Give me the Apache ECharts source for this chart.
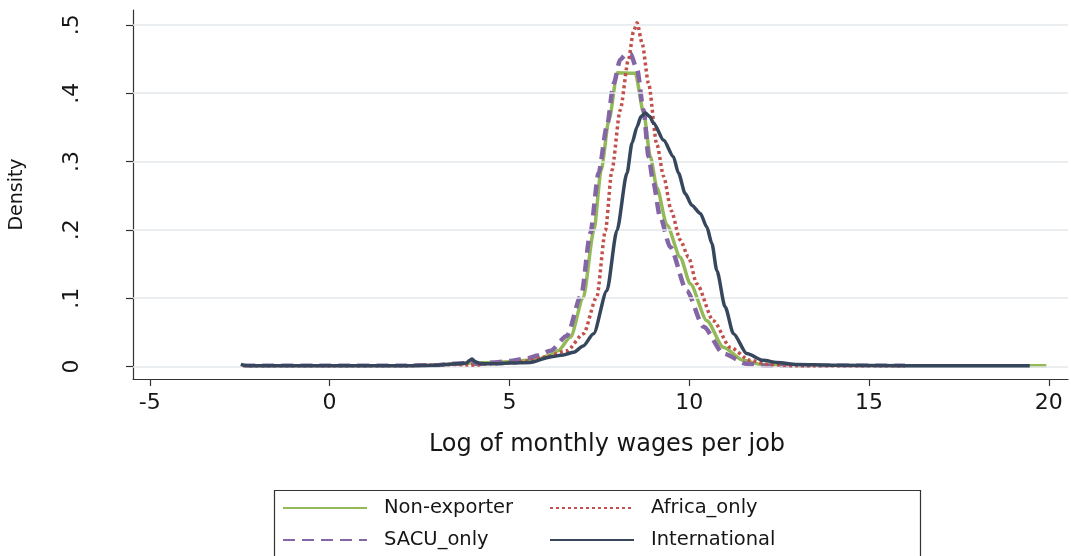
<!DOCTYPE html>
<html>
<head>
<meta charset="utf-8">
<script src="https://cdn.jsdelivr.net/npm/echarts@6/dist/echarts.min.js"></script>
<style>
  html, body { margin: 0; padding: 0; background: #ffffff; }
  #chart { width: 1071px; height: 556px; }
</style>
</head>
<body>
<div id="chart"></div>
<script>
// Kernel density of log monthly wages per job, by exporter status.

const xTicks = [-5, 0, 5, 10, 15, 20];
const yTicks = [0, 0.1, 0.2, 0.3, 0.4, 0.5];

const nonExporterX = [-2.4, 0, 2, 3, 3.5, 4, 4.5, 5, 5.5, 5.8, 6.1, 6.35, 6.7, 7.05, 7.35, 7.55, 7.77, 8.0, 8.5, 8.73, 8.92, 9.1, 9.38, 9.75, 10.03, 10.49, 10.95, 11.5, 12, 13, 16, 19.93];
const nonExporterY = [0.001, 0.001, 0.001, 0.002, 0.004, 0.005, 0.006, 0.007, 0.009, 0.011, 0.016, 0.023, 0.043, 0.100, 0.199, 0.287, 0.361, 0.430, 0.429, 0.372, 0.307, 0.262, 0.207, 0.160, 0.121, 0.067, 0.028, 0.009, 0.003, 0.001, 0.001, 0.001];

const sacuX = [-2.4, 0, 2, 3, 3.4, 3.8, 4.2, 4.6, 5, 5.5, 5.8, 6.14, 6.6, 7.0, 7.25, 7.48, 7.71, 7.9, 8.08, 8.22, 8.36, 8.55, 8.73, 8.87, 9.0, 9.19, 9.47, 9.93, 10.4, 10.95, 11.6, 12.2, 13, 16];
const sacuY = [0.001, 0.001, 0.001, 0.002, 0.004, 0.005, 0.004, 0.006, 0.008, 0.012, 0.016, 0.023, 0.045, 0.105, 0.195, 0.283, 0.351, 0.414, 0.449, 0.456, 0.458, 0.435, 0.375, 0.307, 0.270, 0.219, 0.175, 0.111, 0.058, 0.019, 0.004, 0.001, 0.001, 0.001];

const africaX = [-2.4, 0, 2, 3, 3.5, 4, 4.5, 5, 5.5, 6, 6.6, 7.06, 7.43, 7.67, 7.85, 8.08, 8.31, 8.45, 8.55, 8.69, 8.87, 9.1, 9.29, 9.5, 9.75, 9.98, 10.21, 10.67, 11.14, 11.69, 12.2, 13, 16];
const africaY = [0.001, 0.001, 0.001, 0.002, 0.003, 0.002, 0.004, 0.005, 0.008, 0.014, 0.023, 0.048, 0.102, 0.199, 0.287, 0.375, 0.449, 0.490, 0.503, 0.473, 0.414, 0.325, 0.278, 0.228, 0.185, 0.160, 0.121, 0.067, 0.028, 0.009, 0.003, 0.001, 0.001];

const internationalX = [-2.47, -2.3, 0, 2, 3, 3.5, 3.8, 3.9, 3.96, 4.05, 4.2, 4.6, 5, 5.58, 6.14, 6.5, 6.79, 7.05, 7.34, 7.71, 7.99, 8.27, 8.41, 8.55, 8.66, 8.78, 8.9, 9.01, 9.29, 9.56, 9.7, 9.89, 10.07, 10.31, 10.49, 10.63, 10.77, 11.0, 11.23, 11.6, 12.06, 12.44, 13, 14, 16, 19.47];
const internationalY = [0.003, 0.001, 0.001, 0.001, 0.002, 0.004, 0.005, 0.009, 0.011, 0.007, 0.004, 0.004, 0.005, 0.006, 0.014, 0.017, 0.021, 0.030, 0.048, 0.111, 0.199, 0.283, 0.327, 0.351, 0.366, 0.371, 0.366, 0.356, 0.331, 0.307, 0.283, 0.253, 0.236, 0.224, 0.204, 0.180, 0.140, 0.087, 0.048, 0.019, 0.009, 0.006, 0.003, 0.002, 0.001, 0.001];

const pairs = (xs, ys) => xs.map((x, i) => [x, ys[i]]);

const sans = 'DejaVu Sans';
const inkColor = '#161616';

function densityLine(name, xs, ys, color, width, dash, z) {
  return {
    name: name,
    type: 'line',
    data: pairs(xs, ys),
    symbol: 'none',
    showSymbol: false,
    smooth: 0.25,
    smoothMonotone: 'x',
    z: z,
    lineStyle: { color: color, width: width, type: dash, cap: 'butt' },
    itemStyle: { color: color },
    emphasis: { disabled: true }
  };
}

const chart = echarts.init(document.getElementById('chart'), null, { renderer: 'canvas' });

const legendBase = {
  orient: 'vertical',
  top: 496,
  padding: 0,
  itemWidth: 84,
  itemHeight: 14,
  itemGap: 8,
  selectedMode: false,
  itemStyle: { opacity: 0, borderWidth: 0 },
  textStyle: {
    fontFamily: sans,
    fontSize: 19.5,
    color: inkColor,
    lineHeight: 24,
    padding: [0, 0, 0, 12]
  }
};

chart.setOption({
  animation: false,
  backgroundColor: '#ffffff',
  grid: { left: 132, right: 3, top: 10, bottom: 177, containLabel: false },
  xAxis: {
    type: 'value',
    min: -5.467,
    max: 20.533,
    axisLine: { onZero: false, lineStyle: { color: '#333', width: 1.2 } },
    axisTick: { customValues: xTicks, length: 7, lineStyle: { color: '#333', width: 1.2 } },
    axisLabel: {
      customValues: xTicks,
      margin: 13,
      fontFamily: sans,
      fontSize: 22,
      color: inkColor
    },
    splitLine: { show: false },
    name: 'Log of monthly wages per job',
    nameLocation: 'middle',
    nameGap: 54,
    nameTextStyle: {
      fontFamily: sans,
      fontSize: 24,
      color: inkColor,
      padding: [0, 0, 0, 13]
    }
  },
  yAxis: {
    type: 'value',
    min: -0.0183,
    max: 0.5217,
    axisLine: { onZero: false, lineStyle: { color: '#333', width: 1.2 } },
    axisTick: { customValues: yTicks, length: 7, lineStyle: { color: '#333', width: 1.2 } },
    axisLabel: {
      customValues: yTicks,
      rotate: 90,
      margin: 50,
      fontFamily: sans,
      fontSize: 22,
      color: inkColor,
      formatter: v => (v === 0 ? '0' : String(v).replace(/^0/, ''))
    },
    splitLine: { show: false },
    name: 'Density',
    nameLocation: 'middle',
    nameRotate: 90,
    nameGap: 106,
    nameTextStyle: { fontFamily: sans, fontSize: 19, color: inkColor }
  },
  legend: [
    Object.assign({}, legendBase, { left: 282, data: ['Non-exporter', 'SACU_only'] }),
    Object.assign({}, legendBase, { left: 549, data: ['Africa_only', 'International'] })
  ],
  graphic: [
    {
      type: 'rect',
      left: 272,
      top: 488,
      shape: { width: 646, height: 66 },
      style: { fill: 'none', stroke: '#333', lineWidth: 1.2 },
      silent: true
    }
  ],
  series: [
    {
      name: 'gridlines',
      type: 'line',
      data: [],
      silent: true,
      z: 1,
      markLine: {
        silent: true,
        symbol: 'none',
        label: { show: false },
        animation: false,
        lineStyle: { color: '#e3e9ec', width: 1.5, type: 'solid' },
        emphasis: { disabled: true },
        data: yTicks.map(v => ({ yAxis: v }))
      }
    },
    densityLine('Non-exporter', nonExporterX, nonExporterY, '#93ba56', 3.5, 'solid', 3),
    densityLine('SACU_only', sacuX, sacuY, '#8466a6', 4.5, [12, 7], 4),
    densityLine('Africa_only', africaX, africaY, '#c2504c', 3.5, [3, 3], 5),
    densityLine('International', internationalX, internationalY, '#36475d', 3.5, 'solid', 6)
  ]
});
</script>
</body>
</html>
